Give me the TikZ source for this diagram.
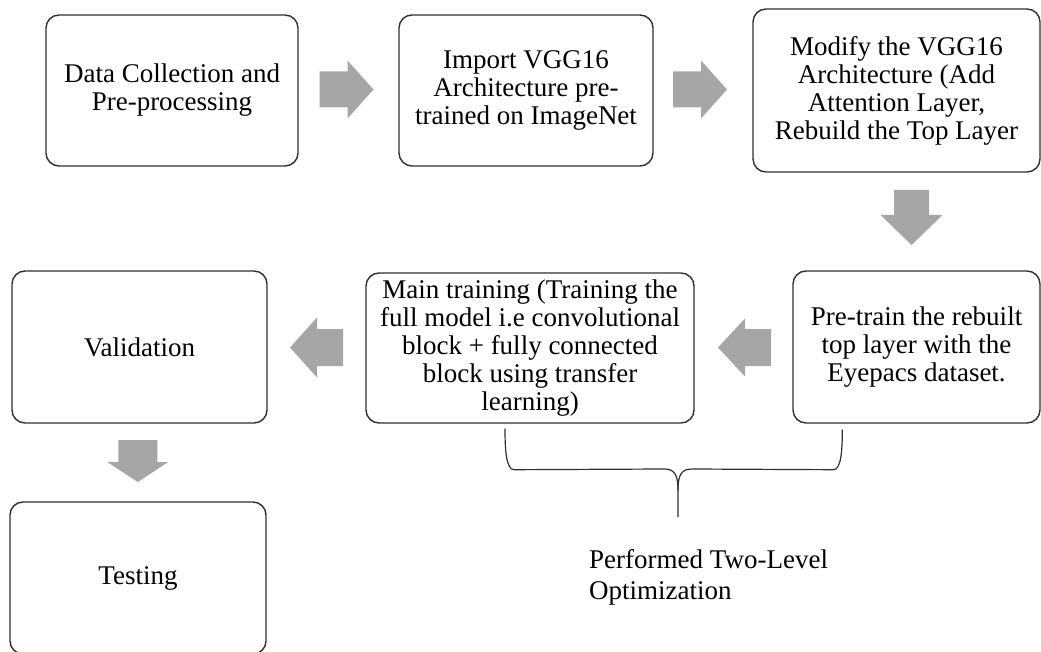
\documentclass[tikz,border=0pt]{standalone}
\usepackage{fontspec}
\setmainfont{Liberation Serif}
\usetikzlibrary{calc}
\definecolor{arrowgrey}{HTML}{A6A6A6}
\definecolor{edgegrey}{HTML}{303030}
% block arrow: #1 centre, #2 angle, #3 half length, #4 half shaft, #5 half head, #6 head length
\newcommand\flowarrow[6]{%
  \fill[arrowgrey, shift={#1}, rotate=#2]
    (-#3,-#4) -- (#3-#6,-#4) -- (#3-#6,-#5) -- (#3,0) -- (#3-#6,#5) -- (#3-#6,#4) -- (-#3,#4) -- cycle;}
\begin{document}
\begin{tikzpicture}[x=1pt,y=-1pt,
  stepbox/.style={draw=edgegrey, line width=1.4pt, rounded corners=13pt, align=center,
    inner sep=0pt, font=\fontsize{27}{28}\selectfont},
  bracepath/.style={draw=edgegrey, line width=1.2pt},
  note/.style={align=left, inner sep=0pt, font=\fontsize{27}{31}\selectfont}]
\useasboundingbox (0,0) rectangle (1041,652);

% process steps
\node[stepbox, minimum width=252pt, minimum height=151pt] (collect) at (172,90.5)
  {Data Collection and\\Pre-processing};
\node[stepbox, minimum width=254pt, minimum height=151pt] (import) at (526,90.5)
  {Import VGG16\\Architecture pre-\\trained on ImageNet};
\node[stepbox, minimum width=287pt, minimum height=163pt] (modify) at (896.5,90.5)
  {Modify the VGG16\\Architecture (Add\\Attention Layer,\\Rebuild the Top Layer};
\node[stepbox, minimum width=247pt, minimum height=152pt] (pretrain) at (916.5,347)
  {Pre-train the rebuilt\\top layer with the\\Eyepacs dataset.};
\node[stepbox, minimum width=328pt, minimum height=150pt] (main) at (530,348)
  {Main training (Training the\\full model i.e convolutional\\block + fully connected\\block using transfer\\learning)};
\node[stepbox, minimum width=255pt, minimum height=152pt] (valid) at (139.5,347)
  {Validation};
\node[stepbox, minimum width=256pt, minimum height=152pt] (test) at (138,578)
  {Testing};

% block arrows between the steps
\flowarrow{($(collect.east)!0.5!(import.west)+(-2,-1)$)}{0}{27}{18}{29}{26}
\flowarrow{($(import.east)!0.5!(modify.west)+(-3,-1)$)}{0}{27}{18}{29}{26}
\flowarrow{($(modify.south)!0.5!(pretrain.north)+(5,-4)$)}{-90}{27.5}{17.5}{31}{30}
\flowarrow{($(pretrain.west)!0.5!(main.east)+(1,0)$)}{180}{26.5}{18.5}{29}{27}
\flowarrow{($(main.west)!0.5!(valid.east)$)}{180}{26.5}{18.5}{30}{27}
\flowarrow{($(valid.south)!0.5!(test.north)+(-1,-1.5)$)}{-90}{21}{19.5}{30.5}{20}

% brace grouping the two training levels
\coordinate (braceL) at ($(main.south)+(-25,5)$);
\coordinate (braceR) at ($(pretrain.south west)+(50,6)$);
\coordinate (braceTip) at (678,517);
\path[bracepath]
  (braceL) .. controls ($(braceL)+(0,20)$) and ($(braceL)+(1,41)$) .. ($(braceL)+(9,41)$)
  -- (664,469) .. controls (674,469) and (678,474) .. (678,490) -- (braceTip);
\path[bracepath]
  (braceR) .. controls ($(braceR)+(0,20)$) and ($(braceR)+(-1,40)$) .. ($(braceR)+(-9,40)$)
  -- (692,469) .. controls (682,469) and (678,474) .. (678,490);

\node[note, anchor=west] (label) at (589,577.5)
  {Performed Two-Level\\Optimization};
\end{tikzpicture}
\end{document}
